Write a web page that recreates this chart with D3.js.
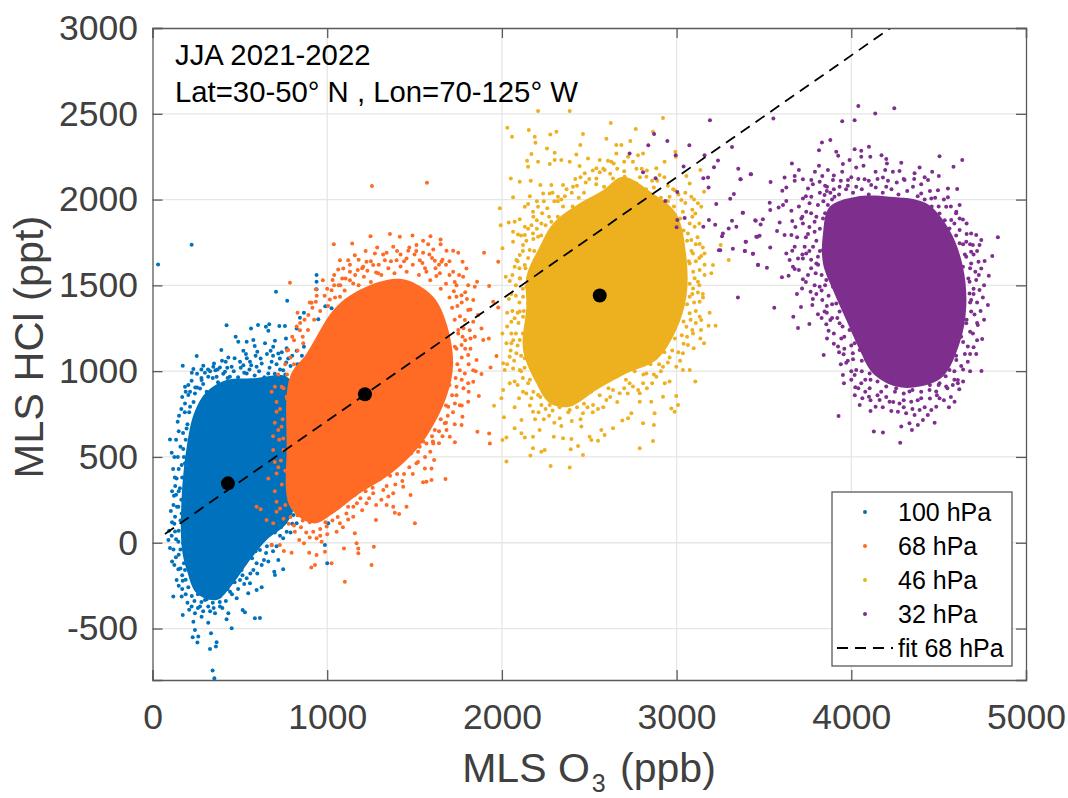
<!DOCTYPE html>
<html>
<head>
<meta charset="utf-8">
<script src="https://cdn.jsdelivr.net/npm/d3@7"></script>
<style>
  html, body { margin: 0; padding: 0; background: #fff; }
  text { font-family: "Liberation Sans", Arial, sans-serif; }
</style>
</head>
<body>
<div id="chart"></div>
<script>
const xTicks = [0, 1000, 2000, 3000, 4000, 5000];
const yTicks = [-500, 0, 500, 1000, 1500, 2000, 2500, 3000];
const levels = ["100 hPa", "68 hPa", "46 hPa", "32 hPa"];
const colors = ["#0072BD", "#FF6A25", "#EDB120", "#7E2F8E"];

// mean of each level [O3, HCl]
const means = [[432, 346], [1216, 865], [2560, 1441]];
// fit through 68 hPa, end points
const fitO3 = [71, 4225];
const fitHCl = [51, 3000];

// solid middle of each cloud, where the dots merge: outline
const core100 = [[310,880],[424,948],[577,958],[768,968],[825,851],[825,268],[768,113],[653,16],[558,-101],[462,-237],[367,-334],[253,-295],[196,-159],[167,-23],[167,268],[196,560],[240,760]];
const core68 = [[1340,1531],[1149,1453],[1035,1356],[882,1103],[787,968],[768,560],[787,210],[920,113],[1035,171],[1187,288],[1340,385],[1454,482],[1568,618],[1683,851],[1721,1045],[1683,1278],[1607,1434],[1454,1531]];
const core46 = [[2445,1978],[2293,1861],[2216,1725],[2140,1550],[2140,1376],[2121,1123],[2197,929],[2274,813],[2388,793],[2541,890],[2712,987],[2884,1065],[2998,1240],[3056,1434],[3056,1667],[2998,1919],[2865,2036],[2693,2133],[2579,2055]];
const core32 = [[4028,2017],[3876,1958],[3838,1803],[3838,1628],[3895,1473],[3971,1298],[4048,1123],[4124,987],[4257,910],[4391,910],[4524,968],[4620,1162],[4658,1376],[4639,1609],[4562,1822],[4429,1978],[4219,2017]];

// individual dots outside the solid part
const pts100 = [[224,1737],[32,1622],[939,1560],[939,1521],[939,1478],[707,1463],[771,1410],[424,1268],[253,1088],[173,1032],[234,1012],[291,1032],[564,1249],[604,1269],[649,1259],[668,1274],[663,1235],[726,1263],[758,1263],[825,1249],[867,1340],[844,1311],[949,1302],[989,1379],[1025,1366],[476,1201],[491,1171],[539,1171],[577,1181],[585,1146],[644,1162],[701,1177],[764,1191],[691,1142],[676,1119],[520,1119],[535,1100],[394,1123],[600,1113],[720,1103],[768,1133],[825,1119],[867,1142],[434,1080],[419,1055],[501,1055],[558,1055],[619,1074],[682,1055],[729,1074],[777,1074],[453,1026],[520,1035],[596,1026],[663,987],[748,1006],[348,1026],[386,1022],[415,997],[443,967],[539,987],[186,909],[224,944],[281,948],[319,967],[367,967],[272,899],[205,861],[243,870],[186,812],[215,793],[152,740],[144,705],[195,666],[100,602],[110,525],[176,546],[167,453],[186,463],[138,375],[157,317],[123,274],[148,210],[129,152],[167,171],[91,16],[129,65],[148,6],[176,-3],[134,-85],[148,-155],[138,-217],[173,-221],[186,-159],[119,-314],[167,-314],[173,-421],[224,-372],[243,-411],[234,-460],[281,-431],[319,-466],[243,-508],[230,-551],[262,-547],[257,-582],[329,-619],[367,-580],[363,-605],[335,-528],[344,-745],[354,-790],[453,-499],[434,-411],[424,-446],[516,-392],[529,-405],[586,-440],[615,-438],[625,-260],[596,-275],[548,-295],[482,-324],[444,-285],[386,-372],[358,-411],[319,-372],[300,-334],[272,-372],[386,-314],[501,-217],[539,-207],[558,-236],[510,-159],[577,-159],[596,-120],[638,-100],[663,-110],[720,-100],[697,-169],[701,-188],[748,-155],[615,-42],[682,-13],[748,26],[768,64],[825,113],[882,171],[1006,113],[987,-13],[1000,-120],[844,230],[768,171],[806,162],
  [255,905],[290,925],[310,880],[345,960],[375,935],[405,985],[430,960],[465,1000],[490,965],[525,990],[555,1010],[585,975],[610,1000],[640,965],[670,1020],[700,985],[730,1010],[760,980],[790,1030],[820,985],[845,1040],[870,960],[840,900],[880,880],[850,800],[890,760],[860,700],[900,650],[870,600],[905,540],[860,480],[895,430],[850,370],[880,320],[845,280],[815,220],[790,190],[760,120],[735,90],[700,60],[670,70],[640,20],[655,-20],[610,-10],[590,-50],[570,-90],[545,-60],[530,-120],[500,-150],[515,-190],[480,-180],[470,-230],[445,-210],[430,-270],[405,-290],[385,-345],[345,-350],[310,-330],[280,-345],[260,-300],[225,-310],[205,-260],[190,-215],[170,-190],[180,-120],[150,-70],[160,-40],[135,20],[150,70],[125,110],[160,130],[140,210],[165,250],[150,300],[130,330],[170,380],[150,430],[180,500],[160,560],[190,600],[175,640],[200,690],[185,760],[210,760],[235,820],[215,880],[245,905],[280,960],[330,1000],[360,1005],
  [300,990],[318,1010],[352,1045],[372,1010],[398,1060],[428,1020],[470,1075],[505,1020],[540,1075],[565,1035],[590,1090],[625,1045],[655,1100],[690,1090],[710,1040],[740,1110],[765,1050],[800,1090],[830,1040],[855,1090],[885,1020],[900,1100],[280,1010],[255,985],[225,990],[205,920],[190,880],[170,850],[165,780],[150,650],[135,600],[125,500],[145,500],[118,430],[128,380],[112,300],[135,280],[120,220],[105,185],[112,120],[95,70],[110,40],[100,-30],[120,-40],[112,-110],[125,-130],[160,-150],[150,-250],[170,-270],[190,-300],[200,-350],[240,-340],[210,-390],[260,-380],[290,-400],[330,-400],[350,-380],[400,-380],[420,-340],[455,-300],[490,-270],[525,-240],[560,-180],[600,-180],[625,-130],[650,-60],[690,-50],[710,-20],[730,40],[790,60],[800,110],[830,170],[855,210],[880,250],[915,300],[930,380],[920,470],[945,560],[930,640],[950,720],[925,800],[900,850],[930,920],[900,1000]];

const pts68 = [[1256,2079],[1571,2098],[1248,1787],[1359,1799],[1416,1783],[1488,1791],[1591,1787],[1038,1740],[1143,1744],[1511,1735],[1549,1760],[1578,1740],[1649,1768],[1649,1740],[1286,1721],[1378,1725],[1340,1690],[1464,1702],[1549,1690],[1607,1709],[1683,1702],[1721,1702],[1273,1686],[1158,1676],[1073,1647],[1120,1647],[1225,1638],[1263,1618],[1330,1647],[1397,1647],[1454,1657],[1530,1647],[1616,1643],[1654,1637],[1750,1690],[1775,1637],[1797,1599],[1898,1690],[1979,1637],[1063,1593],[1092,1599],[1130,1579],[1206,1608],[1292,1570],[1568,1579],[1645,1570],[1721,1579],[1778,1550],[1858,1521],[1927,1496],[1950,1404],[1979,1371],[1031,1531],[1086,1540],[1149,1511],[787,1515],[935,1478],[911,1399],[935,1404],[1025,1472],[1015,1418],[1073,1434],[1807,1501],[1740,1434],[1769,1443],[1845,1492],[1836,1414],[1807,1356],[1788,1298],[1836,1288],[1864,1327],[1883,1249],[1845,1201],[1925,1191],[1893,1181],[1816,1239],[1750,1220],[1769,1152],[1731,1142],[1807,1094],[1855,1065],[1969,1088],[1935,1022],[1883,983],[1836,1006],[1788,987],[1759,1006],[1836,938],[1807,929],[1740,909],[1731,812],[1759,802],[1868,855],[1807,822],[1774,734],[1769,686],[1693,793],[1683,657],[1673,696],[1702,618],[1731,585],[1860,647],[1927,637],[1931,579],[1607,579],[1616,657],[1568,579],[1530,560],[1511,463],[1559,433],[1597,433],[1612,482],[1597,365],[1568,356],[1549,352],[1677,371],[1502,113],[1477,278],[1454,210],[1387,175],[1412,167],[1378,210],[1340,220],[1435,327],[1378,288],[1321,307],[1263,288],[1279,132],[1225,230],[1149,152],[1120,136],[1054,64],[1158,55],[1073,113],[997,94],[939,26],[920,64],[968,6],[1168,-3],[1178,-33],[1178,-62],[1267,-23],[1096,-33],[987,-52],[939,-71],[897,-58],[867,-3],[840,16],[815,64],[796,-58],[752,-48],[930,-130],[909,-145],[1025,-120],[1254,-130],[1101,-227],[682,-13],[729,-13],[596,210],[619,195],[653,133],[691,113],[710,181],[710,239],[663,375],[710,404],[691,540],[710,764],[720,657],[739,676],[748,608],[701,909],[682,880],[739,909],[768,851],[777,1123],[844,1239],[892,1327],[863,1162],
  [1180,1500],[1210,1550],[1250,1520],[1280,1575],[1310,1560],[1350,1600],[1385,1570],[1420,1610],[1455,1580],[1490,1620],[1525,1560],[1560,1600],[1590,1530],[1625,1555],[1650,1480],[1680,1510],[1700,1430],[1725,1465],[1715,1370],[1745,1380],[1730,1300],[1760,1320],[1750,1240],[1775,1200],[1740,1130],[1770,1080],[1745,1040],[1735,960],[1700,920],[1715,860],[1680,800],[1690,740],[1650,720],[1640,650],[1600,620],[1605,590],[1550,590],[1520,530],[1480,520],[1470,440],[1420,470],[1400,400],[1360,390],[1340,330],[1300,370],[1260,320],[1220,300],[1190,260],[1160,280],[1120,210],[1090,230],[1060,150],[1030,190],[990,120],[960,80],[900,120],[860,130],[830,160],[790,150],[760,220],[780,300],[740,340],[760,420],[735,480],[750,540],[725,600],[745,720],[730,780],[770,840],[750,900],[790,930],[770,980],[810,1040],[790,1080],[830,1120],[810,1180],[860,1200],[845,1280],[890,1240],[925,1300],[915,1370],[960,1350],[985,1440],[1005,1380],[1045,1430],[1065,1500],[1100,1470],[1130,1530],[1160,1560],[1040,1560],[1200,1600],[1420,1680],[1500,1680],[1600,1660],[1680,1620],[1640,1620],[1730,1520],[1800,1420],[1790,1180],[1820,1130],[1780,900],
  [1075,1500],[1105,1540],[1175,1590],[1230,1585],[1250,1640],[1295,1620],[1320,1680],[1365,1640],[1400,1700],[1440,1640],[1470,1720],[1510,1700],[1545,1630],[1585,1680],[1620,1600],[1660,1650],[1700,1560],[1700,1640],[1755,1560],[1740,1500],[1790,1460],[1770,1400],[1820,1360],[1780,1250],[1820,1190],[1790,1130],[1810,1040],[1850,1000],[1770,950],[1810,880],[1740,860],[1770,800],[1720,760],[1730,690],[1680,700],[1660,620],[1640,580],[1590,530],[1560,500],[1520,470],[1490,400],[1440,400],[1430,360],[1390,340],[1350,270],[1310,250],[1280,220],[1240,260],[1200,190],[1170,230],[1150,210],[1110,170],[1090,90],[1030,130],[1000,50],[960,40],[900,30],[880,60],[850,90],[810,100],[780,110],[750,140],[730,200],[700,300],[720,440],[700,470],[690,620],[700,700],[710,820],[720,980],[760,1040],[770,1120],[800,1200],[825,1260],[830,1340],[870,1300],[900,1400],[940,1440],[975,1530],[1000,1480],[1040,1500],[1130,1620],[1180,1650],[1220,1700]];

const pts46 = [[2207,2516],[2388,2516],[2031,2419],[2058,2366],[2154,2405],[2188,2366],[2192,2331],[2277,2380],[2312,2395],[2464,2382],[2623,2446],[2766,2411],[2865,2395],[2922,2475],[2598,2354],[2735,2341],[2449,2318],[2655,2318],[2684,2318],[2258,2298],[2302,2273],[2169,2265],[2426,2263],[2493,2240],[2560,2230],[2607,2226],[2655,2269],[2722,2250],[2779,2259],[2808,2269],[2144,2226],[2207,2220],[2150,2191],[2274,2207],[2302,2230],[2340,2230],[2388,2220],[2445,2195],[2541,2182],[2588,2172],[2626,2220],[2750,2220],[2884,2182],[2931,2220],[2993,2279],[2995,2250],[2051,2123],[2102,2104],[2165,2110],[2220,2085],[2283,2085],[2350,2085],[2407,2075],[2474,2153],[2541,2123],[2636,2123],[2703,2133],[2770,2094],[2827,2133],[2903,2143],[3056,2137],[3136,2172],[3075,2094],[3084,2017],[3157,2046],[2064,2013],[2236,2036],[2274,2036],[2321,2017],[2989,2055],[2960,2017],[3027,1997],[1988,1949],[2150,1974],[2207,1958],[2131,1958],[2178,1929],[3122,1978],[3141,1958],[3107,1919],[3036,1929],[3075,1861],[1993,1851],[2039,1867],[2073,1871],[2102,1886],[2169,1851],[2226,1861],[2283,1871],[2064,1813],[2092,1797],[2131,1842],[2131,1793],[2178,1803],[2064,1754],[2207,1783],[3103,1842],[3132,1741],[3084,1764],[3065,1803],[2003,1716],[2121,1735],[2159,1706],[2102,1677],[3208,1618],[3141,1671],[3160,1686],[3094,1686],[3075,1628],[2083,1648],[2131,1618],[2188,1648],[2073,1609],[3199,1570],[3132,1589],[3160,1560],[3103,1541],[3122,1521],[3094,1482],[3122,1459],[3151,1430],[3132,1405],[3075,1434],[2022,1550],[2045,1525],[2102,1541],[2054,1449],[2140,1492],[2121,1434],[2178,1453],[2150,1395],[2054,1288],[2073,1308],[2102,1347],[2121,1317],[3189,1341],[3132,1317],[3141,1298],[3075,1337],[3056,1259],[3183,1265],[3223,1265],[3094,1220],[3136,1191],[3157,1162],[3098,1133],[3065,1152],[3036,1104],[2003,1220],[2054,1220],[2026,1162],[2054,1162],[2102,1181],[2083,1104],[2045,1084],[2007,1046],[2131,1075],[2064,1016],[2016,1007],[2102,1007],[2045,929],[2073,939],[2150,929],[2121,880],[2007,890],[1997,842],[2098,842],[2169,842],[2207,861],[2226,803],[2274,803],[1955,799],[2073,789],[2012,731],[2178,764],[2112,715],[2073,667],[2112,638],[2216,657],[2178,618],[2131,614],[2003,599],[2026,614],[2297,618],[2350,609],[2398,605],[2455,677],[2502,618],[2512,599],[2550,595],[2588,628],[2569,657],[2636,667],[2689,712],[2741,754],[2722,725],[2808,696],[2870,686],[2865,593],[2789,550],[2436,564],[2394,545],[2178,550],[2226,531],[2245,541],[2163,508],[2464,512],[2026,473],[2279,447],[2388,438],[2874,754],[2970,783],[3008,803],[2989,764],[2998,855],[2922,851],[2855,822],[2789,871],[2789,822],[2932,929],[2960,939],[3107,939],[2998,1026],[3036,1007],[3075,1007],[2922,1026],[2884,968],[2827,987],[2808,929],[2731,929],[2674,871],[2636,890],[2598,832],[2388,774],[2331,725],[2464,754],[2522,803],[3252,1735],[3298,1648],
  [2440,2010],[2405,1960],[2470,2040],[2510,2000],[2540,2090],[2585,2075],[2620,2150],[2660,2180],[2700,2165],[2740,2100],[2790,2130],[2825,2060],[2870,2070],[2910,2010],[2950,1990],[2985,1960],[3020,1890],[3040,1820],[3060,1760],[3085,1700],[3070,1640],[3095,1580],[3075,1510],[3090,1450],[3060,1390],[3080,1300],[3040,1290],[3030,1210],[2990,1190],[2975,1120],[2930,1110],[2900,1040],[2850,1040],[2810,980],[2760,1000],[2710,950],[2660,970],[2610,900],[2560,860],[2510,880],[2470,810],[2420,830],[2380,760],[2330,790],[2290,770],[2250,780],[2220,850],[2180,880],[2160,950],[2130,1020],[2110,1090],[2090,1150],[2120,1220],[2095,1280],[2125,1350],[2100,1400],[2120,1480],[2105,1540],[2135,1600],[2150,1660],[2185,1700],[2180,1770],[2225,1790],[2250,1850],[2270,1900],[2320,1900],[2350,1960],[2400,2040],[2360,2020],[2560,2160],[2480,2100],[2430,2080],[2320,1990],[2260,1950],[2200,1880],[2800,2180],[2860,2110],[2950,2080],[3050,1980],[3090,1900],[3120,1780],[3110,1640],[3130,1500],[3100,1400],[3110,1280],[3060,1200],[2950,1050],[2870,980],[2750,910],[2700,900],[2550,780],[2450,720],[2300,700],[2210,760],[2120,960],[2050,1120],[2060,1350],[2080,1500],
  [2340,2000],[2370,2060],[2300,1990],[2290,2040],[2420,2120],[2450,2130],[2500,2120],[2520,2170],[2580,2180],[2640,2210],[2700,2220],[2770,2180],[2830,2170],[2890,2110],[2930,2130],[2980,2060],[3010,2030],[3050,2040],[3100,2000],[3090,1940],[3130,1860],[3110,1740],[3150,1720],[3130,1660],[3160,1620],[3150,1450],[3110,1350],[3140,1240],[3090,1240],[3040,1160],[3010,1110],[3020,1060],[2960,1080],[2910,1000],[2860,930],[2830,900],[2780,890],[2720,870],[2660,820],[2620,850],[2580,790],[2520,760],[2490,790],[2430,790],[2400,710],[2340,680],[2270,740],[2240,720],[2190,720],[2160,800],[2140,870],[2090,920],[2110,1000],[2070,1060],[2030,1040],[2065,1180],[2030,1260],[2080,1220],[2030,1340],[2090,1340],[2040,1420],[2080,1440],[2060,1560],[2100,1600],[2090,1640],[2120,1700],[2140,1760],[2110,1790],[2150,1830],[2200,1830],[2180,1900],[2230,1920],[2240,1990],[2200,1990],[2160,2020]];

const pts32 = [[4040,2545],[4246,2533],[4137,2502],[3948,2457],[4019,2463],[3554,2473],[3880,2347],[3832,2333],[3815,2288],[3914,2279],[3925,2255],[4019,2294],[4057,2285],[4101,2308],[4109,2250],[4173,2259],[4200,2236],[4057,2250],[4505,2253],[4635,2230],[4585,2191],[3660,2211],[3990,2230],[3952,2207],[4028,2187],[4070,2197],[4204,2211],[4286,2215],[4391,2187],[3815,2197],[3700,2172],[3866,2172],[3948,2162],[4139,2162],[4194,2172],[4238,2162],[4276,2166],[4362,2153],[4463,2162],[4501,2137],[3618,2129],[3676,2137],[3792,2162],[3834,2137],[3538,2102],[3424,2147],[3367,2118],[3676,2110],[3723,2118],[3771,2114],[3819,2104],[3895,2114],[3981,2114],[4076,2118],[4181,2129],[4305,2114],[4439,2114],[4553,2065],[4606,2061],[3628,2071],[3605,2052],[3752,2065],[3861,2075],[3933,2075],[4028,2075],[4114,2085],[4200,2075],[4353,2075],[4496,2055],[4553,2013],[3771,2017],[3723,2007],[3847,2026],[3904,2017],[4400,2036],[4458,2007],[3628,1991],[3533,1982],[3609,1968],[3584,1954],[3536,1939],[3657,1935],[3380,1923],[3761,1978],[3809,1968],[3866,1968],[3742,1929],[4620,1968],[4601,1929],[4543,1958],[4505,1919],[4639,1884],[4572,1881],[4562,1832],[3453,1877],[3494,1886],[3481,1855],[3590,1867],[3662,1875],[3714,1890],[3723,1861],[3790,1871],[3838,1890],[3876,1861],[3575,1817],[3618,1793],[3657,1793],[3456,1784],[3475,1789],[3752,1799],[3790,1813],[3857,1784],[4620,1822],[4686,1803],[4715,1793],[4744,1764],[4839,1780],[4696,1735],[4734,1735],[4620,1745],[4658,1754],[3395,1754],[3390,1700],[3437,1684],[3536,1721],[3676,1725],[3733,1725],[3781,1725],[3628,1686],[3662,1702],[3742,1686],[3647,1648],[3466,1618],[3517,1603],[3695,1657],[3723,1657],[3809,1667],[3838,1706],[3666,1609],[3676,1595],[3800,1628],[3876,1648],[4686,1696],[4658,1667],[4807,1671],[4763,1642],[4728,1638],[4744,1599],[4686,1628],[4639,1609],[4610,1648],[4787,1556],[4715,1531],[4677,1521],[3603,1547],[3641,1556],[3752,1560],[3796,1570],[3723,1535],[3857,1531],[3689,1450],[3718,1482],[3767,1463],[3819,1492],[3895,1492],[4734,1473],[4639,1502],[4677,1453],[4753,1430],[4782,1385],[4686,1415],[4629,1424],[3559,1370],[3712,1374],[3777,1385],[3834,1415],[3914,1395],[3668,1317],[3809,1331],[3847,1347],[3880,1298],[3933,1347],[3695,1251],[3760,1275],[3857,1273],[3933,1279],[3990,1317],[3870,1236],[3861,1191],[3943,1191],[3924,1143],[3990,1240],[4019,1162],[3842,1094],[3956,1098],[4048,1123],[4009,1104],[3971,1049],[4086,1065],[4686,1347],[4724,1269],[4658,1279],[4696,1220],[4749,1187],[4629,1201],[4667,1143],[4715,1100],[4581,1143],[4601,1065],[4667,1055],[4629,1030],[4745,1001],[4562,1007],[4524,1026],[4610,948],[4581,919],[4610,929],[4618,894],[4543,910],[4505,929],[4591,822],[4559,789],[4505,842],[4486,793],[4458,774],[4438,745],[4477,700],[4410,715],[4381,686],[4347,657],[4333,696],[4286,677],[4280,583],[4181,642],[4129,649],[3927,739],[4048,803],[4110,768],[4139,793],[4229,768],[4267,764],[4314,754],[4362,745],[4391,774],[4063,842],[4101,851],[4162,832],[4219,822],[4276,812],[4343,822],[4400,842],[3952,978],[3958,929],[4023,906],[4019,978],[4057,929],[4105,900],[4171,880],[4257,900],[4333,881],[4448,890],[4486,881],[4028,1007],[4105,987],[3191,2463],[2871,2382],[2947,2341],[2838,2316],[2731,2269],[3073,2316],[3317,2306],[3160,2259],[2995,2259],[3237,2228],[3040,2193],[3214,2189],[3353,2180],[3426,2147],[2808,2160],[2880,2125],[3180,2129],[3153,2125],[3365,2118],[3183,2071],[3004,2044],[3328,2032],[3307,2005],[2935,1991],[3227,1974],[3378,1923],[3004,1881],[3046,1892],[3185,1881],[3317,1877],[3450,1879],[3221,1853],[3342,1842],[3298,1832],[3153,1842],[3000,1838],[3265,1803],[3260,1787],[3462,1784],[3397,1754],[3322,1714],[3242,1704],[3250,1704],[3391,1700],[3437,1684],[3466,1620],[3351,1430],
  [4010,2040],[4060,2060],[4100,2030],[4140,2070],[4180,2040],[4230,2060],[4270,2030],[4320,2050],[4380,2020],[4420,2000],[4460,1960],[4500,1960],[4535,1880],[4590,1860],[4600,1790],[4640,1740],[4650,1680],[4680,1600],[4670,1540],[4700,1480],[4680,1400],[4705,1330],[4660,1300],[4680,1230],[4640,1170],[4650,1100],[4600,1090],[4590,1000],[4540,970],[4500,920],[4450,920],[4400,880],[4350,890],[4300,870],[4250,880],[4200,910],[4150,940],[4110,950],[4060,1000],[4060,1060],[4010,1070],[4000,1150],[3960,1200],[3950,1260],[3920,1310],[3890,1390],[3870,1440],[3850,1500],[3830,1560],[3810,1620],[3820,1700],[3800,1760],[3820,1830],[3800,1900],[3850,1920],[3840,1990],[3890,2000],[3930,2030],[3970,2060],[3900,2060],[3820,2040],[3770,1920],[3760,1840],[3770,1650],[3790,1500],[3860,1380],[3900,1220],[3960,1130],[4000,1000],[4080,880],[4150,860],[4200,850],[4300,830],[4380,830],[4450,840],[4550,900],[4640,1010],[4700,1140],[4720,1400],[4730,1560],[4700,1680],[4660,1800],[4600,1920],[4480,2010],[4400,2090],[4300,2120],[4150,2120],[4000,2130],[3900,2140],
  [3880,2040],[3850,2080],[3780,2090],[3740,2020],[3700,1960],[3720,1900],[3680,1840],[3740,1780],[3690,1780],[3720,1680],[3760,1700],[3700,1590],[3770,1600],[3740,1520],[3800,1450],[3830,1470],[3780,1420],[3860,1340],[3830,1310],[3890,1310],[3900,1160],[3930,1110],[3980,1060],[3940,1040],[4000,950],[4040,900],[4080,950],[4020,860],[4110,830],[4180,790],[4240,820],[4300,790],[4350,780],[4420,790],[4490,860],[4530,830],[4570,850],[4590,950],[4640,940],[4680,1000],[4680,1100],[4720,1180],[4720,1280],[4760,1300],[4740,1350],[4700,1450],[4760,1500],[4710,1580],[4720,1700],[4680,1740],[4660,1860],[4620,1890],[4570,1960],[4530,2000],[4450,2050],[4420,2130],[4360,2120],[4260,2100],[4210,2110],[4100,2110],[4040,2120],[3980,2080],[3940,2110],[3860,2050]];

const clouds = [
  {pts: pts100, core: core100},
  {pts: pts68, core: core68},
  {pts: pts46, core: core46},
  {pts: pts32, core: core32},
];

const W = 1068, H = 798;
const margin = {top: 28, right: 42, bottom: 118, left: 152.5};
const width = W - margin.left - margin.right,
    height = H - margin.top - margin.bottom;
const boxColor = "#5a5a5a", labelColor = "#404040";

const svg = d3.select("#chart").append("svg")
    .attr("width", W)
    .attr("height", H)
    .style("display", "block");
const g = svg.append("g")
    .attr("transform", `translate(${margin.left},${margin.top})`);

svg.append("defs").append("clipPath").attr("id", "plotClip")
  .append("rect").attr("width", width).attr("height", height);

const x = d3.scaleLinear().domain([0, 5000]).range([0, width]);
const y = d3.scaleLinear().domain([-800, 3000]).range([height, 0]);

// grid
g.append("g").selectAll("line").data(xTicks.slice(1, -1)).join("line")
    .attr("x1", d => x(d)).attr("x2", d => x(d))
    .attr("y1", 0).attr("y2", height)
    .attr("stroke", "#e6e6e6").attr("stroke-width", 1.3);
g.append("g").selectAll("line").data(yTicks.slice(0, -1)).join("line")
    .attr("y1", d => y(d)).attr("y2", d => y(d))
    .attr("x1", 0).attr("x2", width)
    .attr("stroke", "#e6e6e6").attr("stroke-width", 1.3);

// scatter clouds
const plot = g.append("g").attr("clip-path", "url(#plotClip)");
const outline = d3.line().x(d => x(d[0])).y(d => y(d[1])).curve(d3.curveCatmullRomClosed);
clouds.forEach((c, i) => {
  plot.append("path").attr("d", outline(c.core)).attr("fill", colors[i]);
  plot.append("g").selectAll("circle").data(c.pts).join("circle")
      .attr("cx", d => x(d[0]))
      .attr("cy", d => y(d[1]))
      .attr("r", 2)
      .attr("fill", colors[i]);
});

// fit line and means
plot.append("line")
    .attr("x1", x(fitO3[0])).attr("y1", y(fitHCl[0]))
    .attr("x2", x(fitO3[1])).attr("y2", y(fitHCl[1]))
    .attr("stroke", "#000").attr("stroke-width", 1.8)
    .attr("stroke-dasharray", "11,7");
plot.append("g").selectAll("circle").data(means).join("circle")
    .attr("cx", d => x(d[0]))
    .attr("cy", d => y(d[1]))
    .attr("r", 7)
    .attr("fill", "#000");

// axes, ticks point inward
const styleAxis = a => {
  a.select(".domain").attr("stroke", boxColor).attr("stroke-width", 1.3);
  a.selectAll(".tick line").attr("stroke", boxColor).attr("stroke-width", 1.3);
  a.selectAll("text").attr("fill", labelColor).style("font-size", "35.5px");
};
g.append("g").attr("transform", `translate(0,${height})`)
    .call(d3.axisBottom(x).tickValues(xTicks).tickSize(-10).tickPadding(24).tickFormat(d3.format("d")))
    .call(styleAxis);
g.append("g")
    .call(d3.axisLeft(y).tickValues(yTicks).tickSize(-10).tickPadding(14.5).tickFormat(d => String(d)))
    .call(styleAxis);
g.append("g")
    .call(d3.axisTop(x).tickValues(xTicks).tickSize(-10).tickFormat(""))
    .call(styleAxis);
g.append("g").attr("transform", `translate(${width},0)`)
    .call(d3.axisRight(y).tickValues(yTicks).tickSize(-10).tickFormat(""))
    .call(styleAxis);

// axis titles
const xTitle = svg.append("text")
    .attr("x", 589).attr("y", 782)
    .attr("text-anchor", "middle")
    .attr("fill", labelColor)
    .style("font-size", "41px");
xTitle.append("tspan").text("MLS O");
xTitle.append("tspan").attr("dy", 10).attr("dx", 2).style("font-size", "25px").text("3");
xTitle.append("tspan").attr("dy", -10).attr("dx", 3).text(" (ppb)");
svg.append("text")
    .attr("transform", "translate(43,347) rotate(-90)")
    .attr("text-anchor", "middle")
    .attr("fill", labelColor)
    .style("font-size", "41.5px")
    .text("MLS HCl (ppt)");

// annotation
svg.append("text").attr("x", 175).attr("y", 65).style("font-size", "29.3px").text("JJA 2021-2022");
svg.append("text").attr("x", 175).attr("y", 101.5).style("font-size", "29.3px").text("Lat=30-50° N , Lon=70-125° W");

// legend
const legend = svg.append("g");
legend.append("rect")
    .attr("x", 832).attr("y", 492).attr("width", 180).attr("height", 174)
    .attr("fill", "#fff").attr("stroke", boxColor).attr("stroke-width", 1.3);
const rowY = d3.scaleLinear().domain([0, 4]).range([512, 648]);
levels.forEach((name, i) => {
  legend.append("circle").attr("cx", 865).attr("cy", rowY(i)).attr("r", 2).attr("fill", colors[i]);
  legend.append("text").attr("x", 898).attr("y", rowY(i) + 9).style("font-size", "25px").text(name);
});
legend.append("line")
    .attr("x1", 837).attr("x2", 893).attr("y1", rowY(4)).attr("y2", rowY(4))
    .attr("stroke", "#000").attr("stroke-width", 1.8)
    .attr("stroke-dasharray", "11,7");
legend.append("text").attr("x", 898).attr("y", rowY(4) + 9).style("font-size", "25px").text("fit 68 hPa");
</script>
</body>
</html>
